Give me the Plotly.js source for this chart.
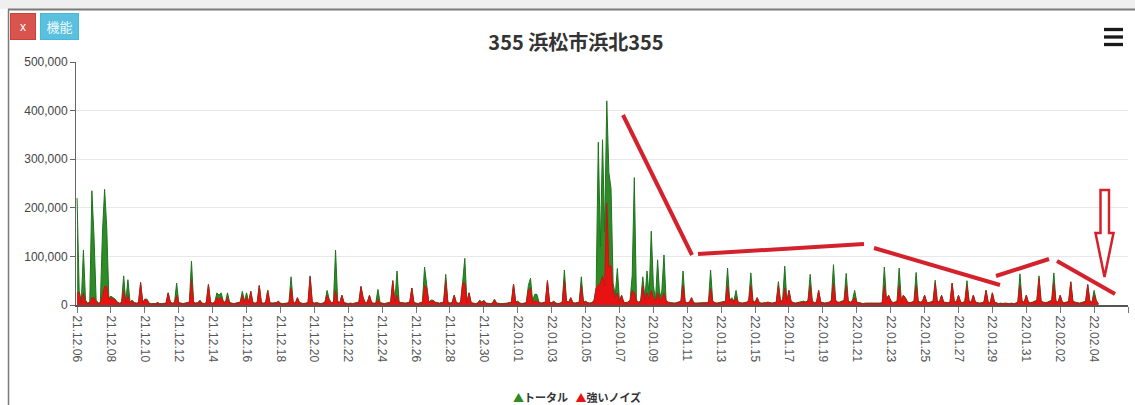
<!DOCTYPE html>
<html><head><meta charset="utf-8">
<script src="https://cdn.plot.ly/plotly-3.0.1.min.js"></script>
<style>html,body{margin:0;padding:0;background:#fff;}#chart{width:1135px;height:405px;}</style>
</head><body><div id="chart"></div>
<script>
// ---------------- data ----------------
const chartTitle = '355 浜松市浜北355';
const seriesNames = ['トータル', '強いノイズ'];
const startDay = [2021, 11, 6];   // 2021-12-06 (month is 0-based)
const samplesPerDay = 8;          // one value every 3 hours
const yTickValues = [0, 100000, 200000, 300000, 400000, 500000];

// トータル (total), one row per day, 8 samples per row
const totalByDay = [
  [220000, 30000, 5000, 113000, 10000, 4000, 6000, 235000],
  [140000, 10000, 4000, 5000, 150000, 238000, 160000, 15000],
  [18000, 15000, 12000, 6000, 4000, 5000, 60000, 6000],
  [52000, 6000, 10000, 5000, 4000, 5000, 47000, 5000],
  [12000, 12000, 4000, 3000, 3000, 3000, 5000, 3000],
  [3000, 3000, 4000, 25000, 6000, 4000, 5000, 45000],
  [5000, 4000, 3000, 4000, 5000, 6000, 90000, 6000],
  [4000, 5000, 10000, 4000, 3000, 5000, 42000, 5000],
  [4000, 6000, 25000, 20000, 25000, 8000, 5000, 25000],
  [5000, 4000, 3000, 4000, 5000, 6000, 28000, 8000],
  [25000, 6000, 28000, 5000, 4000, 5000, 40000, 5000],
  [4000, 5000, 30000, 5000, 4000, 4000, 5000, 8000],
  [4000, 3000, 3000, 4000, 5000, 58000, 6000, 4000],
  [15000, 5000, 4000, 3000, 4000, 5000, 60000, 6000],
  [4000, 5000, 4000, 3000, 4000, 6000, 30000, 12000],
  [5000, 6000, 113000, 8000, 5000, 20000, 5000, 4000],
  [3000, 4000, 3000, 4000, 5000, 6000, 38000, 15000],
  [5000, 6000, 20000, 5000, 4000, 4000, 32000, 5000],
  [4000, 3000, 4000, 5000, 6000, 50000, 8000, 70000],
  [6000, 5000, 4000, 4000, 5000, 6000, 35000, 5000],
  [4000, 3000, 5000, 6000, 78000, 35000, 6000, 10000],
  [10000, 6000, 5000, 4000, 5000, 6000, 63000, 6000],
  [4000, 5000, 20000, 5000, 4000, 5000, 48000, 96000],
  [6000, 25000, 5000, 4000, 3000, 4000, 10000, 6000],
  [10000, 4000, 3000, 3000, 4000, 12000, 4000, 3000],
  [3000, 3000, 3000, 4000, 5000, 6000, 43000, 6000],
  [8000, 4000, 3000, 4000, 5000, 40000, 55000, 8000],
  [22000, 22000, 6000, 4000, 5000, 6000, 50000, 6000],
  [5000, 8000, 4000, 3000, 4000, 6000, 72000, 8000],
  [6000, 15000, 5000, 4000, 5000, 6000, 58000, 6000],
  [8000, 5000, 4000, 5000, 10000, 35000, 335000, 120000],
  [340000, 150000, 420000, 272000, 240000, 45000, 20000, 75000],
  [8000, 20000, 6000, 5000, 6000, 10000, 60000, 262000],
  [10000, 6000, 8000, 58000, 15000, 70000, 20000, 152000],
  [40000, 10000, 93000, 15000, 30000, 103000, 10000, 6000],
  [5000, 4000, 4000, 5000, 6000, 8000, 70000, 6000],
  [5000, 6000, 15000, 5000, 4000, 4000, 5000, 4000],
  [4000, 5000, 6000, 72000, 8000, 5000, 4000, 5000],
  [5000, 6000, 8000, 76000, 10000, 15000, 8000, 30000],
  [6000, 5000, 4000, 5000, 6000, 10000, 66000, 8000],
  [6000, 15000, 5000, 4000, 4000, 5000, 6000, 5000],
  [4000, 5000, 6000, 48000, 8000, 10000, 80000, 8000],
  [30000, 8000, 5000, 4000, 5000, 5000, 6000, 8000],
  [6000, 10000, 63000, 8000, 5000, 6000, 30000, 6000],
  [5000, 4000, 5000, 6000, 10000, 83000, 10000, 6000],
  [6000, 8000, 10000, 65000, 8000, 6000, 10000, 30000],
  [6000, 5000, 4000, 3000, 4000, 4000, 3000, 4000],
  [3000, 4000, 3000, 4000, 5000, 78000, 12000, 20000],
  [10000, 5000, 6000, 8000, 76000, 10000, 20000, 15000],
  [6000, 5000, 6000, 8000, 67000, 8000, 6000, 8000],
  [20000, 6000, 5000, 6000, 8000, 51000, 8000, 6000],
  [20000, 6000, 5000, 5000, 6000, 45000, 8000, 6000],
  [20000, 6000, 5000, 8000, 50000, 8000, 6000, 20000],
  [6000, 5000, 4000, 5000, 6000, 30000, 6000, 5000],
  [25000, 6000, 4000, 3000, 4000, 3000, 4000, 3000],
  [3000, 4000, 3000, 4000, 6000, 64000, 8000, 6000],
  [20000, 6000, 5000, 6000, 8000, 10000, 60000, 8000],
  [6000, 5000, 6000, 8000, 10000, 66000, 8000, 6000],
  [20000, 6000, 5000, 6000, 8000, 48000, 8000, 6000],
  [5000, 4000, 5000, 6000, 8000, 42000, 8000, 6000],
  [30000, 10000, 3000]
];

// 強いノイズ (strong noise), same layout
const noiseByDay = [
  [25000, 25000, 4000, 25000, 5000, 3000, 4000, 15000],
  [15000, 6000, 3000, 4000, 20000, 38000, 38000, 12000],
  [15000, 12000, 10000, 5000, 3000, 4000, 30000, 5000],
  [20000, 5000, 8000, 4000, 3000, 4000, 45000, 4000],
  [12000, 10000, 3000, 2000, 2000, 2000, 5000, 2000],
  [2000, 2000, 3000, 25000, 5000, 3000, 4000, 20000],
  [4000, 3000, 2000, 3000, 4000, 5000, 52000, 5000],
  [3000, 4000, 8000, 3000, 2000, 4000, 42000, 4000],
  [3000, 5000, 15000, 12000, 15000, 6000, 4000, 15000],
  [4000, 3000, 2000, 3000, 4000, 5000, 20000, 6000],
  [15000, 5000, 28000, 4000, 3000, 4000, 40000, 4000],
  [3000, 4000, 30000, 4000, 3000, 3000, 4000, 6000],
  [3000, 2000, 2000, 3000, 4000, 35000, 5000, 3000],
  [15000, 4000, 3000, 2000, 3000, 4000, 58000, 5000],
  [3000, 4000, 3000, 2000, 3000, 5000, 20000, 10000],
  [4000, 5000, 30000, 6000, 4000, 20000, 4000, 3000],
  [2000, 3000, 2000, 3000, 4000, 5000, 38000, 15000],
  [4000, 5000, 20000, 4000, 3000, 3000, 12000, 4000],
  [3000, 2000, 3000, 4000, 5000, 50000, 6000, 20000],
  [5000, 4000, 3000, 3000, 4000, 5000, 35000, 4000],
  [3000, 2000, 4000, 5000, 40000, 35000, 5000, 8000],
  [8000, 5000, 4000, 3000, 4000, 5000, 50000, 5000],
  [3000, 4000, 20000, 4000, 3000, 4000, 45000, 45000],
  [5000, 25000, 4000, 3000, 2000, 3000, 8000, 5000],
  [8000, 3000, 2000, 2000, 3000, 10000, 3000, 2000],
  [2000, 2000, 2000, 3000, 4000, 5000, 43000, 5000],
  [6000, 3000, 2000, 3000, 4000, 30000, 35000, 6000],
  [8000, 8000, 5000, 3000, 4000, 5000, 50000, 5000],
  [4000, 6000, 3000, 2000, 3000, 5000, 50000, 6000],
  [5000, 15000, 4000, 3000, 4000, 5000, 40000, 5000],
  [6000, 4000, 3000, 4000, 8000, 35000, 40000, 45000],
  [60000, 40000, 210000, 80000, 80000, 30000, 15000, 25000],
  [6000, 20000, 5000, 4000, 5000, 8000, 30000, 25000],
  [8000, 5000, 6000, 40000, 10000, 25000, 12000, 30000],
  [15000, 8000, 25000, 10000, 15000, 25000, 8000, 5000],
  [4000, 3000, 3000, 4000, 5000, 6000, 40000, 5000],
  [4000, 5000, 15000, 4000, 3000, 3000, 4000, 3000],
  [3000, 4000, 5000, 35000, 6000, 4000, 3000, 4000],
  [4000, 5000, 6000, 40000, 8000, 12000, 6000, 15000],
  [5000, 4000, 3000, 4000, 5000, 8000, 40000, 6000],
  [5000, 15000, 4000, 3000, 3000, 4000, 5000, 4000],
  [3000, 4000, 5000, 40000, 6000, 8000, 35000, 6000],
  [30000, 6000, 4000, 3000, 4000, 4000, 5000, 6000],
  [5000, 8000, 40000, 6000, 4000, 5000, 30000, 5000],
  [4000, 3000, 4000, 5000, 8000, 45000, 8000, 5000],
  [5000, 6000, 8000, 40000, 6000, 5000, 8000, 15000],
  [5000, 4000, 3000, 2000, 3000, 3000, 2000, 3000],
  [2000, 3000, 2000, 3000, 4000, 40000, 10000, 20000],
  [8000, 4000, 5000, 6000, 40000, 8000, 20000, 12000],
  [5000, 4000, 5000, 6000, 40000, 6000, 5000, 6000],
  [20000, 5000, 4000, 5000, 6000, 45000, 6000, 5000],
  [20000, 5000, 4000, 4000, 5000, 45000, 6000, 5000],
  [20000, 5000, 4000, 6000, 40000, 6000, 5000, 20000],
  [5000, 4000, 3000, 4000, 5000, 30000, 5000, 4000],
  [25000, 5000, 3000, 2000, 3000, 2000, 3000, 2000],
  [2000, 3000, 2000, 3000, 5000, 40000, 6000, 5000],
  [20000, 5000, 4000, 5000, 6000, 8000, 55000, 6000],
  [5000, 4000, 5000, 6000, 8000, 45000, 6000, 5000],
  [20000, 5000, 4000, 5000, 6000, 47000, 6000, 5000],
  [4000, 3000, 4000, 5000, 6000, 42000, 6000, 5000],
  [20000, 8000, 2000]
];

// ---------------- build traces ----------------
const total = totalByDay.flat();
const noise = noiseByDay.flat();
const t0 = Date.UTC(startDay[0], startDay[1], startDay[2]);
const stepMs = 24 * 3600000 / samplesPerDay;
const times = total.map((_, i) => t0 + i * stepMs);

const GREEN = 'rgb(46,139,38)', GREEN_LINE = 'rgb(30,115,30)';
const RED = 'rgb(232,18,18)', RED_LINE = 'rgb(196,22,22)';

const traces = [
  {type: 'scatter', mode: 'lines', name: seriesNames[0], x: times, y: total,
   fill: 'tozeroy', fillcolor: GREEN, line: {color: GREEN_LINE, width: 1}, showlegend: false},
  {type: 'scatter', mode: 'lines', name: seriesNames[1], x: times, y: noise,
   fill: 'tozeroy', fillcolor: RED, line: {color: RED_LINE, width: 1}, showlegend: false}
];

// ---------------- layout helpers (pixel -> paper) ----------------
const W = 1135, H = 405;
const M = {l: 76, r: 7, t: 62, b: 100};
const PW = W - M.l - M.r, PH = H - M.t - M.b;
const px = x => (x - M.l) / PW;
const py = y => (H - M.b - y) / PH;
const ANN = 'rgb(212,34,44)';

function seg(x0, y0, x1, y1, color, width) {
  return {type: 'line', xref: 'paper', yref: 'paper', x0: px(x0), y0: py(y0), x1: px(x1), y1: py(y1),
          line: {color: color, width: width}, layer: 'above'};
}
function poly(pts, fill, color, width) {
  const d = pts.map((p, i) => (i ? 'L' : 'M') + px(p[0]).toFixed(5) + ',' + py(p[1]).toFixed(5)).join(' ') + ' Z';
  return {type: 'path', xref: 'paper', yref: 'paper', path: d, fillcolor: fill,
          line: {color: color, width: width}, layer: 'above'};
}

const shapes = [
  // page frame
  {type: 'rect', xref: 'paper', yref: 'paper', x0: px(0), x1: px(W), y0: py(0), y1: py(9), fillcolor: '#efefef', line: {width: 0}, layer: 'above'},
  seg(8, 9.5, W, 9.5, '#7a7a7a', 2),
  seg(8.5, 9.5, 8.5, H, '#7a7a7a', 1.5),
  // hamburger menu
  seg(1104, 29.5, 1123, 29.5, '#1a1a1a', 3.3),
  seg(1104, 37, 1123, 37, '#1a1a1a', 3.3),
  seg(1104, 44.5, 1123, 44.5, '#1a1a1a', 3.3),
  // hand-drawn red annotation strokes
  seg(623, 115, 692, 255, ANN, 4),
  seg(698, 254, 864, 244, ANN, 4),
  seg(874, 248, 1000, 285, ANN, 4),
  seg(996, 276, 1049, 259, ANN, 4),
  seg(1057, 261, 1115, 294, ANN, 4),
  poly([[1100.5, 190], [1109, 190], [1109, 233], [1113.5, 233], [1104.5, 277], [1095.5, 233], [1100.5, 233]], '#ffffff', ANN, 2.5)
];

const annotations = [
  {xref: 'paper', yref: 'paper', x: px(10), y: py(13), xanchor: 'left', yanchor: 'top', showarrow: false,
   text: 'x', width: 24, height: 25, bgcolor: '#d9534f', bordercolor: '#c9403c', borderwidth: 1, borderpad: 0,
   font: {family: 'Liberation Sans, Arial', size: 12, color: '#ffffff'}},
  {xref: 'paper', yref: 'paper', x: px(40), y: py(13), xanchor: 'left', yanchor: 'top', showarrow: false,
   text: '機能', width: 37, height: 25, bgcolor: '#5bc0de', bordercolor: '#46b8da', borderwidth: 1, borderpad: 0,
   font: {family: 'Noto Sans CJK JP', size: 13, color: '#eefaff'}},
  {xref: 'paper', yref: 'paper', x: px(577), y: py(397), xanchor: 'center', yanchor: 'middle', showarrow: false,
   text: '<span style="color:' + GREEN + '">▲</span><b>' + seriesNames[0] + '</b>   <span style="color:' + RED + '">▲</span><b>' + seriesNames[1] + '</b>',
   font: {family: 'Noto Sans CJK JP', size: 11, color: '#333333'}}
];

const layout = {
  width: W, height: H,
  margin: M,
  paper_bgcolor: '#ffffff', plot_bgcolor: '#ffffff',
  separators: '.,',
  showlegend: false,
  title: {text: '<b>' + chartTitle + '</b>', xref: 'container', yref: 'container',
          x: 576 / W, y: 1 - 43 / H, xanchor: 'center', yanchor: 'middle',
          font: {family: 'Noto Sans CJK JP', size: 20, color: '#333333'}},
  xaxis: {
    type: 'date',
    range: [t0 - 1.5 * 3600000, t0 + 62 * 24 * 3600000],
    tick0: t0, dtick: 2 * 24 * 3600000, tickformat: '%y.%m.%d', tickangle: 90,
    ticks: 'outside', ticklen: 6, tickcolor: '#777', tickwidth: 1,
    showline: true, linecolor: '#555', linewidth: 2,
    showgrid: false, zeroline: false,
    tickfont: {family: 'Liberation Sans, Arial', size: 12, color: '#555555'}
  },
  yaxis: {
    range: [0, 500000], tickvals: yTickValues, tickformat: ',d',
    ticks: 'outside', ticklen: 5, tickcolor: '#666', tickwidth: 1,
    showline: true, linecolor: '#666', linewidth: 1,
    gridcolor: '#e8e8e8', gridwidth: 1, zeroline: false,
    tickfont: {family: 'Liberation Sans, Arial', size: 12, color: '#444444'}
  },
  shapes: shapes,
  annotations: annotations,
  hovermode: false
};

Plotly.newPlot('chart', traces, layout, {displayModeBar: false, staticPlot: true});
</script>
</body></html>
